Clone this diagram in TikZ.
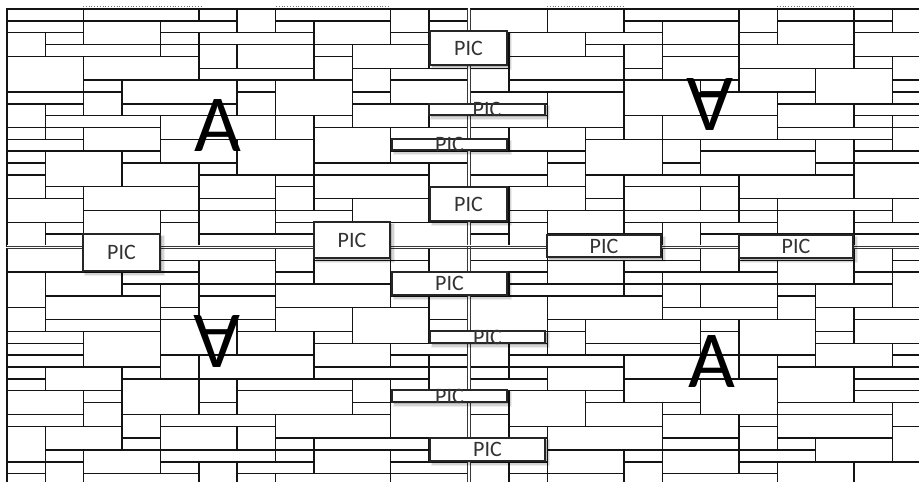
\documentclass[tikz,border=0pt]{standalone}
\usepackage{fontspec}
\setmainfont{Carlito}
\begin{document}
\begin{tikzpicture}[x=1pt,y=-1pt,
  mline/.style={draw=black!92,line width=1.45pt},
  qline/.style={draw=black!78,line width=1pt},
  pictext/.style={text=black!80,font=\fontsize{22}{22}\selectfont,inner sep=0pt},
  bigletter/.style={text=black,font=\fontsize{81}{81}\selectfont,inner sep=0pt},
  dotline/.style={draw=black!55,line width=0.8pt,dotted}]
\def\mcw{38.36}\def\mrh{11.85}
\def\mosaic{0/0/2/1,2/0/5/1,5/0/6/1,6/0/7/2,7/0/10/1,10/0/11/2,11/0/12/1,
0/1/2/2,2/1/4/3,4/1/6/2,7/1/8/2,8/1/10/3,11/1/12/2,
0/2/1/4,1/2/2/3,4/2/5/3,5/2/8/3,10/2/11/3,11/2/12/5,
1/3/4/4,4/3/5/4,5/3/6/5,6/3/8/5,8/3/9/4,9/3/11/5,
0/4/2/7,2/4/5/6,8/4/9/6,
5/5/8/6,9/5/10/7,10/5/12/6,
2/6/3/7,3/6/6/8,6/6/7/7,7/6/9/9,10/6/12/8,
0/7/2/8,2/7/3/9,6/7/7/9,9/7/10/8,
0/8/1/10,1/8/2/9,3/8/6/9,9/8/11/10,11/8/12/9,
1/9/4/10,4/9/7/11,7/9/8/11,8/9/9/10,11/9/12/10,
0/10/1/11,1/10/2/11,2/10/4/12,8/10/10/13,10/10/12/11,
0/11/2/12,4/11/6/13,6/11/8/14,10/11/12/12,
0/12/1/13,1/12/3/15,3/12/4/13,10/12/12/13,
0/13/1/14,3/13/5/15,5/13/6/14,8/13/11/14,11/13/12/15,
0/14/1/16,5/14/7/16,7/14/8/15,8/14/11/16,
1/15/2/16,2/15/5/17,7/15/8/17,11/15/12/18,
0/16/2/18,5/16/7/17,8/16/9/17,9/16/11/18,
2/17/4/19,4/17/5/18,5/17/7/19,7/17/9/18,
0/18/1/20,1/18/2/19,4/18/5/20,7/18/8/19,8/18/10/20,10/18/12/20,
1/19/2/20,2/19/4/20,5/19/8/20}
\newcommand\picbox[5]{%
  \fill[black,opacity=0.07] ({#2+1},{#3+1}) rectangle ({#4+5},{#5+5});
  \fill[black,opacity=0.10] ({#2+1.5},{#3+1.5}) rectangle ({#4+3.5},{#5+3.5});
  \fill[black,opacity=0.14] ({#2+2},{#3+2}) rectangle ({#4+2.2},{#5+2.2});
  \draw[fill=white,line width=1.4pt,draw=black!85] (#2,#3) rectangle (#4,#5);
  \node[pictext] (#1) at ({(#2+#4)/2},{(#3+#5)/2}) {PIC};}
\useasboundingbox (0,0) rectangle (919,482);
\clip (0,0) rectangle (919,482);
\fill[white] (0,0) rectangle (919,482);
% top-left mosaic
\foreach \a/\b/\c/\d in \mosaic {\draw[mline] ({7+\a*\mcw},{9+\b*\mrh}) rectangle ({7+\c*\mcw},{9+\d*\mrh});}
% bottom-right mosaic (same)
\foreach \a/\b/\c/\d in \mosaic {\draw[mline] ({470.5+\a*\mcw},{248.5+\b*\mrh}) rectangle ({470.5+\c*\mcw},{248.5+\d*\mrh});}
% top-right mosaic (rotated)
\foreach \a/\b/\c/\d in \mosaic {\draw[mline] ({470.5+(12-\c)*\mcw},{9+(20-\d)*\mrh}) rectangle ({470.5+(12-\a)*\mcw},{9+(20-\b)*\mrh});}
% bottom-left mosaic (rotated)
\foreach \a/\b/\c/\d in \mosaic {\draw[mline] ({7+(12-\c)*\mcw},{248.5+(20-\d)*\mrh}) rectangle ({7+(12-\a)*\mcw},{248.5+(20-\b)*\mrh});}
% quadrant seams
\coordinate (v1t) at (467.3,9); \coordinate (v1b) at (467.3,485);
\coordinate (v2t) at (470.5,9); \coordinate (v2b) at (470.5,485);
\coordinate (h1l) at (7,246); \coordinate (h1r) at (930,246);
\coordinate (h2l) at (7,248.5); \coordinate (h2r) at (930,248.5);
\foreach \p/\q in {v1t/v1b,v2t/v2b,h1l/h1r,h2l/h2r} {\draw[white,line width=1.5pt] (\p) -- (\q); \draw[qline] (\p) -- (\q);}
% dotted top edges
\coordinate (d1a) at (83,6.5); \coordinate (d1b) at (201,6.5);
\coordinate (d2a) at (276,6.5); \coordinate (d2b) at (389,6.5);
\coordinate (d3a) at (547,6.5); \coordinate (d3b) at (623,6.5);
\coordinate (d4a) at (777,6.5); \coordinate (d4b) at (853,6.5);
\draw[dotline] (d1a) -- (d1b);
\draw[dotline] (d2a) -- (d2b);
\draw[dotline] (d3a) -- (d3b);
\draw[dotline] (d4a) -- (d4b);
% letters
\node[bigletter] (a1) at (218,126) {A};
\node[bigletter,rotate=180] (a2) at (710,104) {A};
\node[bigletter,rotate=180] (a3) at (217,341) {A};
\node[bigletter] (a4) at (712,362) {A};
% picture boxes
\picbox{p1}{430}{31}{507}{65}
\picbox{p2}{429}{104}{545}{115}
\picbox{p3}{392}{139}{507}{150}
\picbox{p4}{430}{187}{507}{221}
\picbox{p5}{314}{222}{390}{258}
\picbox{p6}{83}{234}{160}{271}
\picbox{p7}{547}{235}{661}{257}
\picbox{p8}{739}{235}{853}{258}
\picbox{p9}{392}{272}{507}{295}
\picbox{p10}{430}{331}{545}{343}
\picbox{p11}{392}{390}{507}{402}
\picbox{p12}{430}{438}{545}{461}
\end{tikzpicture}
\end{document}
